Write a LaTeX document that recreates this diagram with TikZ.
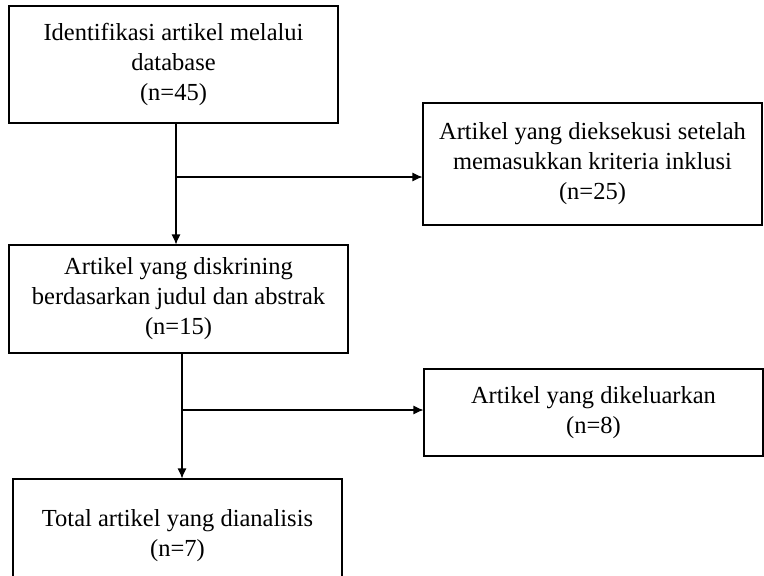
\documentclass[tikz,border=0pt]{standalone}
\usepackage{fontspec}
\setmainfont{Liberation Serif}
\usetikzlibrary{arrows.meta,calc}

\begin{document}
\begin{tikzpicture}[x=1pt,y=-1pt,->,>={Latex[length=10pt,width=9pt]},line width=1.1pt,
  box/.style={draw,rectangle,align=center,inner sep=0pt,font=\fontsize{24.5}{30}\selectfont}]
\useasboundingbox (0,0) rectangle (764,576);
\clip (0,0) rectangle (764,576);

\node[box,minimum width=329,minimum height=117] (ident) at (173.5,64.5) {Identifikasi artikel melalui\\database\\(n=45)};
\node[box,minimum width=339,minimum height=122] (exec) at (592.5,164) {Artikel yang dieksekusi setelah\\memasukkan kriteria inklusi\\(n=25)};
\node[box,minimum width=339,minimum height=108] (screen) at (178.5,299) {Artikel yang diskrining\\berdasarkan judul dan abstrak\\(n=15)};
\node[box,minimum width=339,minimum height=87] (excl) at (593.5,412.5) {Artikel yang dikeluarkan\\(n=8)};
\node[box,minimum width=329,minimum height=114] (total) at (177.5,536) {Total artikel yang dianalisis\\(n=7)};

\coordinate (j1) at (176,177);
\coordinate (j2) at (182,410);

\path[->] (ident.south -| j1) edge (screen.north -| j1);
\draw[->] (j1) -- (j1 -| exec.west);
\path[->] (screen.south -| j2) edge (total.north -| j2);
\draw[->] (j2) -- (j2 -| excl.west);
\end{tikzpicture}
\end{document}
